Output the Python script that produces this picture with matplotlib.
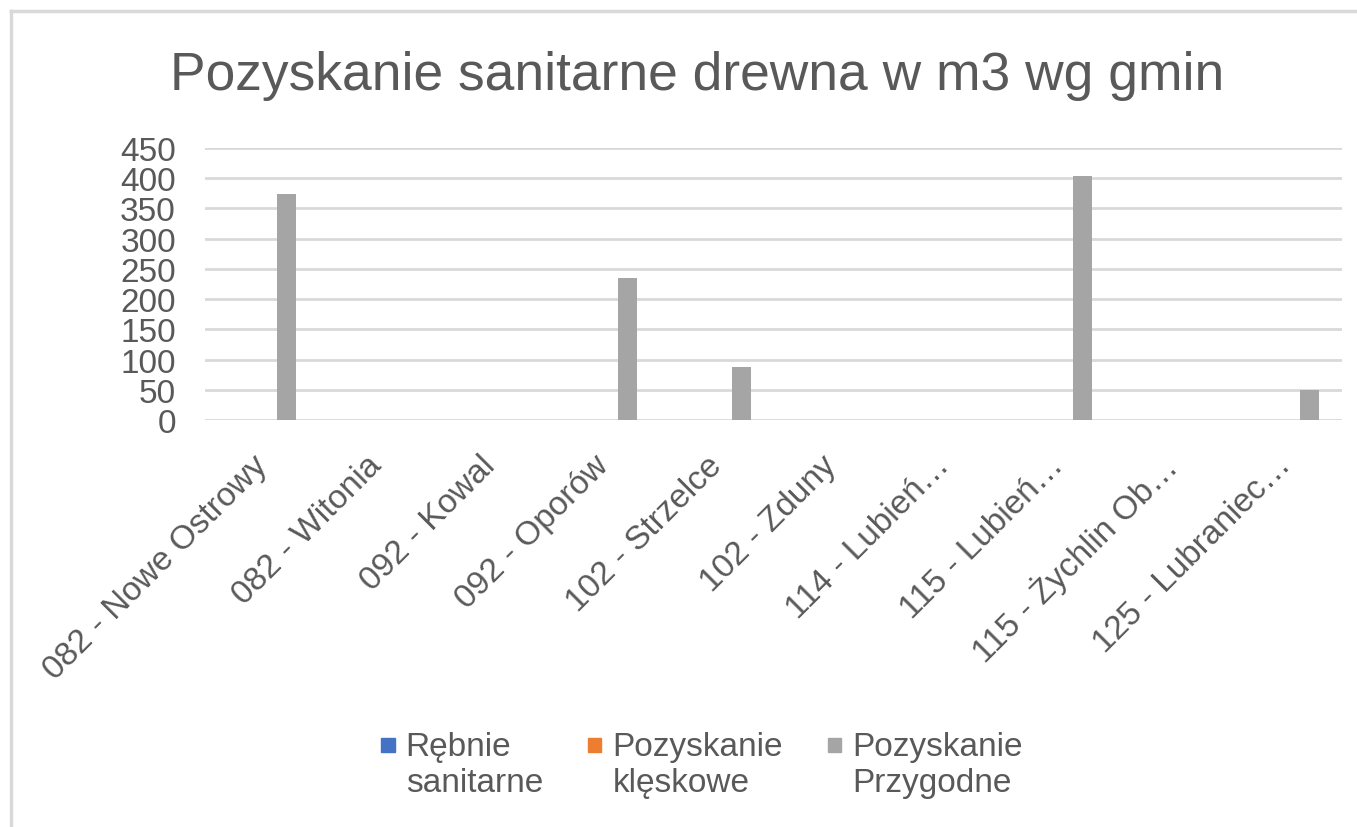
import matplotlib
matplotlib.use("Agg")
import matplotlib.pyplot as plt
import matplotlib.patches as mpatches
import matplotlib.transforms as mtransforms
from matplotlib.lines import Line2D
from matplotlib.legend_handler import HandlerPatch
import numpy as np

# gminy (x axis)
gminy = ["082 - Nowe Ostrowy", "082 - Witonia", "092 - Kowal", "092 - Oporów",
         "102 - Strzelce", "102 - Zduny", "114 - Lubień…", "115 - Lubień…",
         "115 - Żychlin Ob…", "125 - Lubraniec…"]

# m3 per gmina for each kind of harvest
rebnie_sanitarne = [0, 0, 0, 0, 0, 0, 0, 0, 0, 0]
pozyskanie_kleskowe = [0, 0, 0, 0, 0, 0, 0, 0, 0, 0]
pozyskanie_przygodne = [374, 0, 0, 235, 87, 0, 0, 404, 0, 50]

series_names = ["Rębnie\nsanitarne", "Pozyskanie\nklęskowe", "Pozyskanie\nPrzygodne"]
colors = ["#4472C4", "#ED7D31", "#A5A5A5"]

y_ticks = [0, 50, 100, 150, 200, 250, 300, 350, 400, 450]

txt = "#595959"
grid = "#D9D9D9"
plt.rcParams['font.family'] = ['Liberation Sans', 'DejaVu Sans']

fig = plt.figure(figsize=(13.57, 8.28), dpi=100)
ax = fig.add_axes([205 / 1357, 1 - 421 / 828, (1342 - 205) / 1357, (421 - 149) / 828])

x = np.arange(len(gminy))
w = 0.167
offsets = [-0.215, 0.0, 0.215]
handles = []
for vals, off, c, name in zip([rebnie_sanitarne, pozyskanie_kleskowe, pozyskanie_przygodne],
                              offsets, colors, series_names):
    ax.bar(x + off, vals, width=w, color=c, zorder=3)
    handles.append(mpatches.Patch(color=c, label=name))

ax.set_xlim(-0.5, len(gminy) - 0.5)
ax.set_ylim(0, 450)
ax.set_yticks(y_ticks)
ax.yaxis.grid(True, color=grid, linewidth=2.0, zorder=0)
ax.set_axisbelow(True)
for s in ["top", "right", "left", "bottom"]:
    ax.spines[s].set_visible(False)
ax.tick_params(axis='y', length=0, pad=21, labelsize=24, labelcolor=txt)
ax.tick_params(axis='x', length=0, pad=29, labelsize=24, labelcolor=txt)

ax.set_xticks(x)
ax.set_xticklabels(gminy, rotation=45, ha='right', va='center', rotation_mode='anchor')
shift = mtransforms.ScaledTranslation(1 / 100, 0, fig.dpi_scale_trans)
for lab in ax.get_xticklabels():
    lab.set_transform(lab.get_transform() + shift)

fig.text(697 / 1357, 1 - 90 / 828, "Pozyskanie sanitarne drewna w m3 wg gmin",
         ha='center', va='baseline', fontsize=38.4, color=txt)


# legend square next to the first line of a two-line label
def top_square(legend, orig_handle, xdescent, ydescent, width, height, fontsize):
    s = 0.4 * fontsize
    return mpatches.Rectangle((-xdescent, -ydescent + 0.74 * fontsize), s, s)


leg = fig.legend(handles=handles, loc='upper center', bbox_to_anchor=(702 / 1357, 1 - 732 / 828),
                 ncol=3, frameon=False, fontsize=24, handlelength=0.4, handletextpad=0.33,
                 columnspacing=1.35, borderpad=0, borderaxespad=0,
                 handler_map={mpatches.Patch: HandlerPatch(patch_func=top_square)})
for t in leg.get_texts():
    t.set_color(txt)

# chart frame (top and left edges)
fig.add_artist(Line2D([11 / 1357, 1.01], [1 - 12 / 828] * 2, color=grid, linewidth=2.5))
fig.add_artist(Line2D([11 / 1357] * 2, [-0.01, 1 - 12 / 828], color=grid, linewidth=2.5))

fig.savefig("out.png", dpi=100)
